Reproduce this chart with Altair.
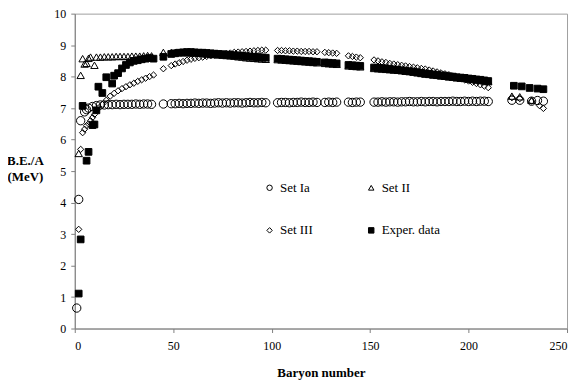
import altair as alt
import pandas as pd

series = ["Set Ia", "Set II", "Set III", "Exper. data"]
shapes = ["circle", "triangle-up", "diamond", "square"]
fills = ["transparent", "transparent", "transparent", "black"]
strokes = ["black", "black", "black", "black"]
marker_sizes = [70, 55, 40, 45]

# shared mass numbers of the dense middle range
a_mid = [45, 49, 51, 53, 55, 57, 59, 61, 63, 65, 67, 69, 71, 73, 75, 77, 79, 81, 83, 85, 87, 89, 91, 93, 95, 97,
         103, 105, 107, 109, 111, 113, 115, 117, 119, 121, 123,
         127, 129, 131, 133,
         139, 141, 143, 145,
         152, 154, 156, 158, 160, 162, 164, 166, 168, 170, 172, 174, 176, 178, 180, 182, 184, 186, 188, 190,
         192, 194, 196, 198, 200, 202, 204, 206, 208, 210]

# ---- Set Ia (open circles)
a_ia_low = [1, 2, 3, 5, 6, 7, 9, 11, 13, 15, 17, 19, 21, 23, 25, 27, 29, 31, 33, 35, 37, 39]
be_ia_low = [0.65, 4.10, 6.60, 6.88, 6.95, 7.00, 7.05, 7.08, 7.10, 7.10, 7.11, 7.11, 7.12, 7.11, 7.12, 7.12,
             7.12, 7.13, 7.12, 7.13, 7.13, 7.12]
be_ia_mid = [7.13, 7.14, 7.14, 7.15, 7.14, 7.15, 7.15, 7.16, 7.15, 7.16, 7.16, 7.15, 7.16, 7.17, 7.16, 7.17,
             7.16, 7.17, 7.17, 7.16, 7.17, 7.18, 7.17, 7.17, 7.18, 7.17,
             7.17, 7.18, 7.18, 7.17, 7.18, 7.18, 7.19, 7.18, 7.18, 7.19, 7.18,
             7.18, 7.19, 7.18, 7.19,
             7.19, 7.18, 7.19, 7.19,
             7.19, 7.19, 7.20, 7.19, 7.20, 7.20, 7.19, 7.20, 7.20, 7.21, 7.20, 7.20, 7.21, 7.20, 7.21,
             7.21, 7.20, 7.21, 7.21, 7.21, 7.22, 7.21, 7.21, 7.22, 7.21, 7.22, 7.21, 7.22, 7.22, 7.21]
a_ia_high = [222, 226, 232, 235, 238]
be_ia_high = [7.25, 7.25, 7.22, 7.24, 7.22]

# ---- Set II (open triangles)
a_ii_low = [2, 3, 4, 5, 6, 7, 8, 10, 11, 13, 15, 17, 19, 21, 23, 25, 27, 29, 31, 33, 35, 37, 39]
be_ii_low = [5.56, 8.04, 8.57, 8.40, 8.42, 8.58, 8.62, 8.36, 8.62, 8.62, 8.63, 8.63, 8.63, 8.64, 8.64, 8.64,
             8.64, 8.65, 8.65, 8.65, 8.66, 8.67, 8.66]
be_ii_mid = [8.77, 8.77, 8.77, 8.77, 8.76, 8.76, 8.75, 8.75, 8.74, 8.73, 8.72, 8.71, 8.70, 8.69, 8.68, 8.67,
             8.66, 8.65, 8.63, 8.62, 8.60, 8.59, 8.58, 8.57, 8.56, 8.55,
             8.54, 8.53, 8.52, 8.51, 8.50, 8.49, 8.48, 8.47, 8.46, 8.45, 8.44,
             8.42, 8.41, 8.40, 8.39,
             8.34, 8.33, 8.32, 8.31,
             8.26, 8.25, 8.24, 8.23, 8.22, 8.21, 8.20, 8.19, 8.17, 8.16, 8.14, 8.12, 8.10, 8.08, 8.07,
             8.05, 8.04, 8.02, 8.01, 7.99, 7.98, 7.96, 7.95, 7.94, 7.92, 7.91, 7.89, 7.88, 7.86, 7.84]
a_ii_high = [222, 226, 232]
be_ii_high = [7.38, 7.36, 7.25]

# ---- Set III (open diamonds)
a_iii_low = [2, 3, 4, 5, 6, 7, 8, 9, 10, 11, 12, 14, 16, 18, 20, 22, 24, 26, 28, 30, 32, 34, 36, 38, 40]
be_iii_low = [3.15, 5.69, 6.22, 6.33, 6.44, 6.50, 6.60, 6.70, 6.80, 6.92, 7.00, 7.12, 7.25, 7.38, 7.47, 7.55,
              7.62, 7.68, 7.74, 7.79, 7.85, 7.90, 7.95, 8.00, 8.05]
be_iii_mid = [8.25, 8.35, 8.40, 8.44, 8.48, 8.52, 8.55, 8.58, 8.60, 8.62, 8.64, 8.66, 8.68, 8.70, 8.72, 8.74,
              8.75, 8.77, 8.78, 8.79, 8.80, 8.81, 8.82, 8.83, 8.84, 8.84,
              8.83, 8.83, 8.82, 8.82, 8.81, 8.81, 8.80, 8.80, 8.80, 8.79, 8.79,
              8.77, 8.76, 8.75, 8.74,
              8.66, 8.64, 8.62, 8.60,
              8.53, 8.50, 8.47, 8.45, 8.42, 8.40, 8.38, 8.36, 8.34, 8.32, 8.30, 8.28, 8.26, 8.24, 8.21,
              8.18, 8.15, 8.12, 8.09, 8.06, 8.02, 7.98, 7.94, 7.90, 7.86, 7.82, 7.78, 7.74, 7.70, 7.65]
a_iii_high = [222, 226, 232, 236, 238]
be_iii_high = [7.33, 7.30, 7.22, 7.08, 6.99]

# ---- Experimental data (filled squares)
a_exp_low = [2, 3, 4, 6, 7, 9, 10, 11, 12, 14, 16, 19, 20, 22, 24, 26, 28, 30, 32, 34, 36, 38, 40]
be_exp_low = [1.11, 2.83, 7.07, 5.33, 5.61, 6.46, 6.48, 6.93, 7.68, 7.48, 7.98, 7.78, 8.03, 8.11, 8.26, 8.37,
              8.45, 8.50, 8.52, 8.55, 8.57, 8.59, 8.57]
be_exp_mid = [8.63, 8.72, 8.74, 8.76, 8.77, 8.78, 8.78, 8.77, 8.76, 8.76, 8.75, 8.74, 8.73, 8.72, 8.71, 8.70,
              8.69, 8.68, 8.67, 8.66, 8.65, 8.64, 8.63, 8.62, 8.61, 8.60,
              8.57, 8.56, 8.55, 8.54, 8.53, 8.52, 8.51, 8.50, 8.49, 8.48, 8.47,
              8.45, 8.44, 8.43, 8.42,
              8.37, 8.36, 8.35, 8.34,
              8.29, 8.28, 8.27, 8.26, 8.24, 8.23, 8.22, 8.20, 8.19, 8.17, 8.16, 8.14, 8.12, 8.10, 8.09,
              8.07, 8.06, 8.04, 8.03, 8.01, 8.00, 7.98, 7.97, 7.96, 7.94, 7.93, 7.91, 7.90, 7.88, 7.86]
a_exp_high = [223, 227, 231, 235, 238]
be_exp_high = [7.71, 7.69, 7.64, 7.62, 7.60]

groups = [
    ("Set Ia", a_ia_low + a_mid + a_ia_high, be_ia_low + be_ia_mid + be_ia_high),
    ("Set II", a_ii_low + a_mid + a_ii_high, be_ii_low + be_ii_mid + be_ii_high),
    ("Set III", a_iii_low + a_mid + a_iii_high, be_iii_low + be_iii_mid + be_iii_high),
    ("Exper. data", a_exp_low + a_mid + a_exp_high, be_exp_low + be_exp_mid + be_exp_high),
]

FONT = "Liberation Serif"
legend = alt.Legend(title=None, orient="none", legendX=189, legendY=168, columns=2,
                    direction="horizontal", columnPadding=52, rowPadding=29, symbolSize=30)

x_enc = alt.X("A:Q", scale=alt.Scale(domain=[0, 250], nice=False),
              axis=alt.Axis(values=[0, 50, 100, 150, 200, 250], title="Baryon number", grid=False,
                            tickSize=4, labelPadding=8, titleBaseline="alphabetic", titleY=48))
y_enc = alt.Y("BE:Q", scale=alt.Scale(domain=[0, 10], nice=False),
              axis=alt.Axis(values=list(range(0, 11)), title=["B.E./A", "(MeV)"], grid=False,
                            tickSize=4, labelPadding=5, titleAngle=0, titleAlign="center",
                            titleBaseline="alphabetic", titleX=-50, titleY=151, titleLineHeight=16))
shape_enc = alt.Shape("series:N", scale=alt.Scale(domain=series, range=shapes), legend=legend)
fill_enc = alt.Fill("series:N", scale=alt.Scale(domain=series, range=fills), legend=legend)
stroke_enc = alt.Stroke("series:N", scale=alt.Scale(domain=series, range=strokes), legend=legend)

layers = []
for (name, xs, ys), msize in zip(groups, marker_sizes):
    part = pd.DataFrame({"A": xs, "BE": ys, "series": [name] * len(xs)})
    layers.append(
        alt.Chart(part).mark_point(opacity=1, strokeWidth=1, size=msize)
        .encode(x=x_enc, y=y_enc, shape=shape_enc, fill=fill_enc, stroke=stroke_enc)
    )

chart = alt.layer(*layers).properties(
    width=494, height=316,
    autosize=alt.AutoSizeParams(type="none"),
    padding={"left": 67, "top": 5, "right": 6, "bottom": 52},
).configure_view(
    stroke="#a0a0a0", strokeWidth=1
).configure_axis(
    labelFont=FONT, labelFontSize=12, labelColor="black",
    titleFont=FONT, titleFontSize=13, titleFontWeight="bold", titleColor="black",
    domainColor="#808080", tickColor="#808080",
).configure_legend(
    labelFont=FONT, labelFontSize=13, labelColor="black", symbolStrokeWidth=1,
)

chart.save("out.html", embed_options={"renderer": "svg", "actions": False})
